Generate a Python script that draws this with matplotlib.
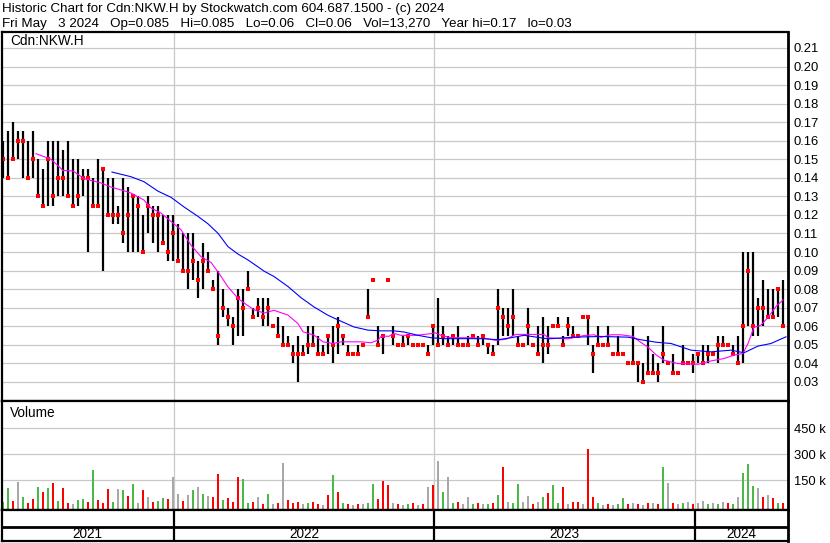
import numpy as np
import pandas as pd
import matplotlib
matplotlib.use("Agg")
import matplotlib.pyplot as plt
import matplotlib.dates as mdates

plt.rcParams['font.family'] = ['Liberation Sans', 'DejaVu Sans']

W, H = 830, 543

title_line = "Historic Chart for Cdn:NKW.H by Stockwatch.com 604.687.1500 - (c) 2024"
quote_line = "Fri May  3 2024  Op=0.085  Hi=0.085  Lo=0.06  Cl=0.06  Vol=13,270  Year hi=0.17  lo=0.03"
symbol = "Cdn:NKW.H"

# weekly bars, first one ending Fri 2021-05-07
first_week = "2021-05-07"
high = [0.16, 0.165, 0.17, 0.165, 0.165, 0.16, 0.165, 0.15, 0.145, 0.16,
        0.16, 0.16, 0.155, 0.16, 0.15, 0.15, 0.145, 0.145, 0.14, 0.15,
        0.145, 0.14, 0.14, 0.125, 0.14, 0.135, 0.13, 0.13, 0.12, 0.13,
        0.125, 0.125, 0.12, 0.12, 0.12, 0.115, 0.11, 0.11, 0.11, 0.095,
        0.105, 0.10, 0.085, 0.09, 0.08, 0.07, 0.065, 0.08, 0.08, 0.09,
        0.07, 0.075, 0.075, 0.075, 0.06, 0.065, 0.06, 0.055, 0.05, 0.055,
        0.05, 0.06, 0.06, 0.055, 0.05, 0.055, 0.06, 0.065, 0.055, 0.05,
        0.045, 0.05, 0.05, 0.08, 0.085, 0.06, 0.055, 0.085, 0.06, 0.05,
        0.055, 0.055, 0.05, 0.05, 0.05, 0.05, 0.06, 0.075, 0.06, 0.055,
        0.055, 0.06, 0.05, 0.055, 0.055, 0.055, 0.055, 0.05, 0.05, 0.08,
        0.07, 0.07, 0.08, 0.055, 0.05, 0.07, 0.05, 0.06, 0.065, 0.06,
        0.06, 0.065, 0.055, 0.065, 0.06, 0.055, 0.065, 0.065, 0.05, 0.06,
        0.05, 0.06, 0.045, 0.055, 0.045, 0.04, 0.06, 0.04, 0.04, 0.055,
        0.045, 0.04, 0.06, 0.04, 0.045, 0.035, 0.05, 0.04, 0.045, 0.045,
        0.05, 0.05, 0.045, 0.055, 0.055, 0.05, 0.05, 0.055, 0.10, 0.10,
        0.10, 0.075, 0.085, 0.08, 0.08, 0.08, 0.085]
low = [0.14, 0.14, 0.15, 0.15, 0.14, 0.14, 0.14, 0.13, 0.125, 0.125,
       0.125, 0.13, 0.13, 0.13, 0.125, 0.125, 0.13, 0.10, 0.125, 0.125,
       0.09, 0.12, 0.115, 0.115, 0.105, 0.10, 0.10, 0.10, 0.10, 0.11,
       0.105, 0.10, 0.105, 0.095, 0.095, 0.095, 0.09, 0.08, 0.085, 0.075,
       0.08, 0.09, 0.08, 0.05, 0.065, 0.06, 0.05, 0.055, 0.055, 0.08,
       0.065, 0.065, 0.06, 0.06, 0.06, 0.055, 0.05, 0.05, 0.04, 0.03,
       0.045, 0.045, 0.05, 0.045, 0.045, 0.045, 0.04, 0.045, 0.05, 0.045,
       0.045, 0.045, 0.05, 0.065, 0.085, 0.05, 0.045, 0.085, 0.05, 0.05,
       0.05, 0.05, 0.05, 0.05, 0.05, 0.045, 0.05, 0.05, 0.05, 0.05,
       0.05, 0.05, 0.05, 0.05, 0.055, 0.05, 0.05, 0.045, 0.045, 0.05,
       0.055, 0.055, 0.055, 0.05, 0.05, 0.05, 0.05, 0.045, 0.04, 0.045,
       0.06, 0.06, 0.05, 0.055, 0.055, 0.055, 0.065, 0.05, 0.035, 0.05,
       0.05, 0.05, 0.045, 0.045, 0.045, 0.04, 0.04, 0.03, 0.03, 0.035,
       0.035, 0.03, 0.04, 0.04, 0.035, 0.035, 0.04, 0.04, 0.035, 0.04,
       0.04, 0.04, 0.045, 0.04, 0.05, 0.05, 0.045, 0.04, 0.04, 0.06,
       0.055, 0.055, 0.06, 0.065, 0.065, 0.065, 0.06]
close = [0.15, 0.14, 0.15, 0.16, 0.16, 0.14, 0.15, 0.13, 0.125, 0.15,
         0.13, 0.14, 0.14, 0.13, 0.125, 0.13, 0.14, 0.14, 0.125, 0.125,
         0.145, 0.12, 0.12, 0.12, 0.11, 0.12, 0.13, 0.125, 0.10, 0.125,
         0.12, 0.12, 0.105, 0.10, 0.11, 0.095, 0.09, 0.09, 0.095, 0.085,
         0.095, 0.09, 0.08, 0.055, 0.07, 0.065, 0.06, 0.075, 0.07, 0.08,
         0.065, 0.07, 0.065, 0.07, 0.06, 0.055, 0.05, 0.05, 0.045, 0.045,
         0.045, 0.05, 0.05, 0.045, 0.045, 0.055, 0.05, 0.06, 0.055, 0.045,
         0.045, 0.045, 0.05, 0.065, 0.085, 0.05, 0.055, 0.085, 0.055, 0.05,
         0.05, 0.055, 0.05, 0.05, 0.05, 0.045, 0.06, 0.05, 0.055, 0.05,
         0.055, 0.05, 0.05, 0.05, 0.055, 0.05, 0.055, 0.05, 0.045, 0.07,
         0.065, 0.06, 0.065, 0.05, 0.05, 0.06, 0.05, 0.045, 0.05, 0.05,
         0.06, 0.06, 0.05, 0.06, 0.055, 0.055, 0.065, 0.065, 0.045, 0.05,
         0.05, 0.05, 0.045, 0.045, 0.045, 0.04, 0.04, 0.04, 0.03, 0.035,
         0.035, 0.035, 0.045, 0.04, 0.035, 0.035, 0.04, 0.04, 0.04, 0.045,
         0.04, 0.045, 0.045, 0.05, 0.05, 0.05, 0.045, 0.04, 0.06, 0.09,
         0.06, 0.07, 0.07, 0.065, 0.065, 0.08, 0.06]
# weekly volume, thousands of shares, and direction (1 up, -1 down, 0 flat)
volume_k = [25, 105, 30, 143, 53, 20, 43, 114, 84, 105,
            136, 30, 105, 20, 15, 38, 43, 25, 209, 38,
            20, 100, 25, 100, 95, 59, 126, 20, 95, 53,
            25, 30, 48, 43, 167, 74, 30, 66, 95, 110,
            74, 59, 53, 184, 35, 48, 25, 167, 160, 20,
            25, 53, 15, 69, 15, 20, 250, 38, 20, 25,
            15, 20, 25, 15, 10, 64, 183, 84, 20, 15,
            10, 15, 15, 20, 131, 43, 147, 121, 20, 15,
            10, 15, 20, 10, 15, 114, 121, 264, 84, 167,
            20, 25, 15, 53, 15, 20, 15, 15, 20, 64,
            224, 25, 20, 126, 25, 59, 15, 25, 53, 79,
            121, 20, 110, 15, 25, 25, 15, 328, 53, 20,
            10, 15, 10, 15, 48, 15, 20, 15, 10, 20,
            20, 15, 224, 136, 20, 15, 20, 25, 15, 20,
            30, 15, 20, 15, 25, 20, 15, 53, 193, 245,
            116, 105, 53, 64, 48, 20, 20]
vol_dir = [1, 1, -1, 0, 1, -1, -1, 1, -1, 1,
           -1, 1, -1, -1, 0, 1, 1, -1, 1, -1,
           -1, -1, 1, 0, 1, -1, 1, 0, -1, 0,
           -1, 1, 1, -1, 0, 0, -1, 0, 1, 0,
           1, 0, -1, -1, 1, -1, -1, -1, 1, 1,
           -1, 0, -1, 1, 0, -1, 0, -1, -1, -1,
           0, 1, -1, -1, 0, -1, 1, -1, 1, -1,
           0, -1, 0, 1, 1, -1, -1, -1, 0, -1,
           0, 1, -1, 0, -1, 0, -1, 0, 1, 0,
           1, -1, 0, 0, 1, -1, 0, 1, -1, 1,
           -1, 0, 1, 1, 0, 0, -1, 0, 1, -1,
           1, 1, -1, 0, -1, -1, 0, -1, -1, 1,
           0, -1, 0, 1, 1, -1, 0, -1, 0, -1,
           0, -1, 1, 0, -1, 0, 1, 0, -1, 0,
           0, 1, 0, 1, 0, -1, 1, 0, 1, 1,
           1, 0, -1, 0, -1, 1, -1]

# moving averages, sampled (week number, price)
fast_ma_wk = [6.6, 9.6, 12.0, 14.0, 16.2, 19.6, 21.6, 24.2, 25.6, 28.2,
              29.6, 31.6, 33.6, 35.6, 37.6, 39.6, 41.6, 43.0, 45.0, 47.0,
              48.6, 50.2, 52.2, 54.2, 57.0, 59.0, 60.0, 62.2, 64.0, 66.0,
              67.6, 71.6, 73.6, 75.0, 75.6, 77.2, 78.2, 79.6, 82.6, 85.6,
              86.4, 87.6, 89.6, 93.6, 96.6, 98.6, 100.6, 102.6, 104.6, 108.2,
              109.0, 113.0, 116.2, 118.2, 119.6, 121.6, 123.6, 126.0, 127.2, 129.0,
              130.6, 132.2, 135.0, 139.0, 141.6, 144.2, 146.2, 148.0, 149.0, 150.2,
              151.6, 153.0, 154.6, 156.0]
fast_ma = [0.153, 0.150, 0.144, 0.1437, 0.1396, 0.1372, 0.135, 0.133, 0.1318, 0.128,
           0.1237, 0.121, 0.1165, 0.112, 0.1037, 0.0975, 0.0944, 0.0893, 0.0812, 0.075,
           0.0718, 0.0689, 0.0671, 0.0686, 0.066, 0.0614, 0.057, 0.0552, 0.0516, 0.0507,
           0.0516, 0.0516, 0.0511, 0.0525, 0.0546, 0.0546, 0.0561, 0.0551, 0.0551, 0.056,
           0.0565, 0.0551, 0.0538, 0.0538, 0.0533, 0.0524, 0.053, 0.0556, 0.0556, 0.0556,
           0.0538, 0.0532, 0.055, 0.0554, 0.054, 0.0554, 0.0554, 0.0545, 0.052, 0.0487,
           0.0446, 0.0417, 0.0399, 0.0395, 0.0413, 0.0426, 0.0444, 0.0453, 0.0507, 0.0594,
           0.0606, 0.0648, 0.0706, 0.0742]
slow_ma_wk = [21.8, 25.6, 28.2, 31.0, 33.6, 36.2, 39.0, 41.0, 43.0, 45.0,
              47.0, 49.0, 51.0, 52.2, 54.2, 57.0, 59.6, 62.2, 65.0, 67.6,
              70.2, 73.0, 75.6, 78.2, 80.2, 83.0, 85.6, 88.2, 96.2, 99.0,
              101.6, 104.2, 109.0, 114.2, 119.6, 125.0, 127.6, 130.6, 133.6, 137.6,
              141.6, 145.6, 148.2, 151.0, 153.6, 156.6]
slow_ma = [0.1431, 0.1406, 0.1379, 0.1328, 0.1295, 0.1243, 0.1192, 0.1152, 0.1101, 0.1029,
           0.0989, 0.0957, 0.092, 0.0897, 0.0868, 0.0814, 0.0754, 0.0704, 0.0659, 0.0627,
           0.0596, 0.0579, 0.0575, 0.0575, 0.0569, 0.0551, 0.0538, 0.0533, 0.0533, 0.0527,
           0.0538, 0.0551, 0.0532, 0.0541, 0.0545, 0.0541, 0.0527, 0.0514, 0.0507, 0.0471,
           0.0462, 0.0471, 0.0457, 0.0493, 0.0507, 0.0543]

price_ticks = [0.03, 0.04, 0.05, 0.06, 0.07, 0.08, 0.09, 0.10, 0.11, 0.12,
               0.13, 0.14, 0.15, 0.16, 0.17, 0.18, 0.19, 0.20, 0.21]
vol_ticks = [150000, 300000, 450000]
vol_tick_labels = ["150 k", "300 k", "450 k"]
years = [2021, 2022, 2023, 2024]


def rect(x0, y0, x1, y1):
    # pixel box (top-left origin) -> figure fraction
    return [x0 / W, 1 - y1 / H, (x1 - x0) / W, (y1 - y0) / H]


dates = pd.date_range(first_week, periods=len(close), freq="7D")
x = mdates.date2num(dates)
x0 = x[0]
xlim = (x0 - 1.4, x0 + 1099)
year_bounds = [mdates.date2num(pd.Timestamp(f"{y}-01-01")) for y in years[1:]]

high = np.array(high)
low = np.array(low)
close = np.array(close)
vol = np.array(volume_k) * 1000.0
vol_dir = np.array(vol_dir)

fs = 9.4
grid_col = "#c8c8c8"

fig = plt.figure(figsize=(W / 100, H / 100), dpi=100)

fig.text(2 / W, 1 - 9 / H, title_line, fontsize=9.6, va="center", ha="left")
fig.text(2 / W, 1 - 24 / H, quote_line.replace("  ", "   "), fontsize=9.6,
         va="center", ha="left")

# ---- price panel
ax = fig.add_axes(rect(2, 32, 788, 401))
ax.set_xlim(*xlim)
ax.set_ylim(0.0197, 0.2186)
ax.set_yticks(price_ticks)
ax.set_yticklabels([f"{v:.2f}" for v in price_ticks])
ax.yaxis.tick_right()
ax.tick_params(axis="y", length=0, pad=4, labelsize=fs)
ax.set_xticks(year_bounds)
ax.tick_params(axis="x", length=0, labelbottom=False)
ax.grid(True, color=grid_col, lw=0.9)
ax.set_axisbelow(True)

rng = high > low
ax.vlines(x[rng], low[rng], high[rng], color="black", lw=1.6)
ax.plot(x, close, ls="none", marker="s", ms=2.3, mew=0, color="red")
ax.plot(x0 + np.array(fast_ma_wk) * 7, fast_ma, color="#ff00ff", lw=0.8)
ax.plot(x0 + np.array(slow_ma_wk) * 7, slow_ma, color="#0000ff", lw=0.8)
ax.text(8 / 786, 1 - 9 / 369, symbol, transform=ax.transAxes, fontsize=9.8,
        va="center", ha="left")

# ---- volume panel
av = fig.add_axes(rect(2, 401, 788, 510))
av.set_xlim(*xlim)
vbot = -21000
av.set_ylim(vbot, 607000)
av.set_yticks(vol_ticks)
av.set_yticklabels(vol_tick_labels)
av.yaxis.tick_right()
av.tick_params(axis="y", length=0, pad=4, labelsize=fs)
av.set_xticks(year_bounds)
av.tick_params(axis="x", length=0, labelbottom=False)
av.grid(True, color=grid_col, lw=0.9)
av.set_axisbelow(True)
vcols = np.where(vol_dir > 0, "#4cb848", np.where(vol_dir < 0, "#ff0000", "#a8a8a8"))
av.bar(x, vol - vbot, bottom=vbot, width=2.8, color=vcols, linewidth=0)
av.text(8 / 786, 1 - 12 / 109, "Volume", transform=av.transAxes, fontsize=9.8,
        va="center", ha="left")

# ---- year strip
ab = fig.add_axes(rect(2, 510, 788, 541))
ab.set_xlim(*xlim)
ab.set_ylim(0, 31)
ab.set_xticks([])
ab.set_yticks([])
ab.axhline(14, color="black", lw=2)
ab.vlines(year_bounds, 0, 31, color="black", lw=1.6)
edges = [xlim[0]] + year_bounds + [xlim[1]]
for i, y in enumerate(years):
    ab.text((edges[i] + edges[i + 1]) / 2, 6.5, str(y), fontsize=9.8,
            ha="center", va="center")

for a in (ax, av, ab):
    for side in ("left", "top", "bottom"):
        a.spines[side].set_color("black")
        a.spines[side].set_linewidth(1.6)
    a.spines["right"].set_color("black")
    a.spines["right"].set_linewidth(2.0)

fig.savefig("out.png", dpi=100)
